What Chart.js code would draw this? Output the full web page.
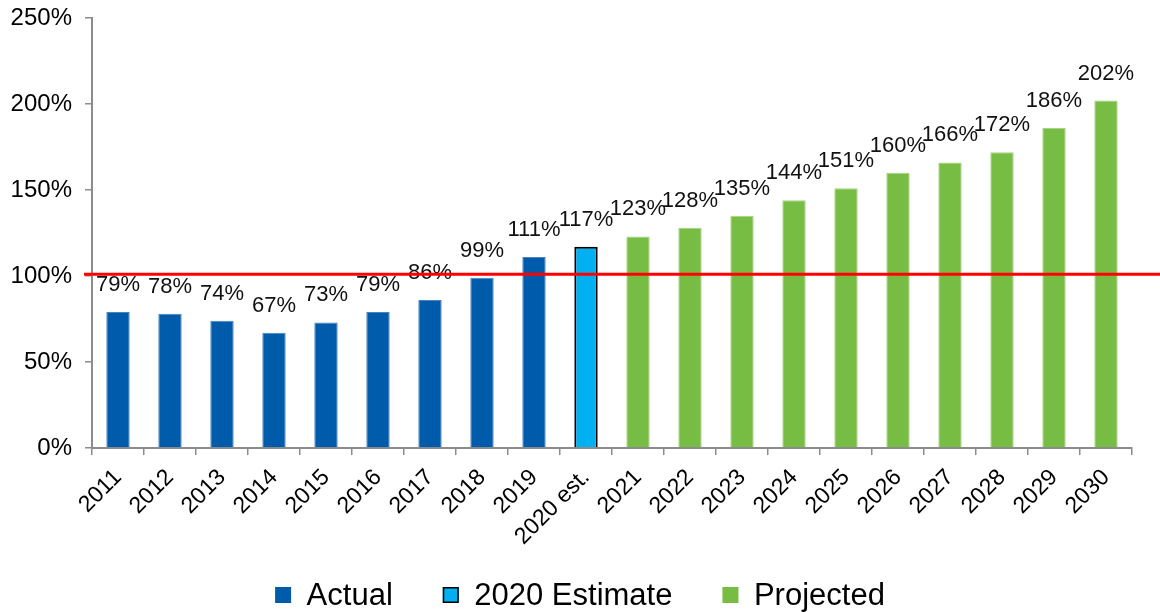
<!DOCTYPE html>
<html>
<head>
<meta charset="utf-8">
<script src="https://cdn.jsdelivr.net/npm/chart.js@4.4.1/dist/chart.umd.min.js"></script>
<style>
  html, body { margin: 0; padding: 0; background: #fff; }
  #wrap { width: 1160px; height: 612px; position: relative; }
</style>
</head>
<body>
<div id="wrap"><canvas id="chart"></canvas></div>
<script>
/* ---- DATA ---- */
const years = ['2011', '2012', '2013', '2014', '2015', '2016', '2017', '2018', '2019', '2020 est.',
               '2021', '2022', '2023', '2024', '2025', '2026', '2027', '2028', '2029', '2030'];
const actual    = [79, 78, 74, 67, 73, 79, 86, 99, 111];   // 2011-2019
const estimate  = [117];                                   // 2020 est.
const projected = [123, 128, 135, 144, 151, 160, 166, 172, 186, 202]; // 2021-2030
const yTicks    = [0, 50, 100, 150, 200, 250];
const threshold = 101;

const FONT = 'Arial, "Liberation Sans", sans-serif';
const AXIS = '#8c8c8c';

// place each series on its own slice of the year axis, null elsewhere
const nEst = actual.length;
const actualData    = years.map((_, i) => i < nEst ? actual[i] : null);
const estimateData  = years.map((_, i) => i === nEst ? estimate[0] : null);
const projectedData = years.map((_, i) => i > nEst ? projected[i - nEst - 1] : null);

/* ---- PLUGINS ---- */
// value labels above each bar
const valueLabels = {
  id: 'valueLabels',
  afterDatasetsDraw(chart, args, opts) {
    const ctx = chart.ctx;
    ctx.save();
    ctx.font = `${opts.size}px ${FONT}`;
    ctx.fillStyle = '#111';
    ctx.textAlign = 'center';
    ctx.textBaseline = 'alphabetic';
    chart.data.datasets.forEach((ds, di) => {
      const meta = chart.getDatasetMeta(di);
      meta.data.forEach((bar, i) => {
        const v = ds.data[i];
        if (v == null) return;
        ctx.fillText(v + '%', bar.x, bar.y - opts.gap);
      });
    });
    ctx.restore();
  }
};

// red 100% reference line, runs past the plot to the right edge
const thresholdLine = {
  id: 'thresholdLine',
  afterDraw(chart, args, opts) {
    const ctx = chart.ctx;
    const y = chart.scales.y.getPixelForValue(opts.value);
    ctx.save();
    ctx.strokeStyle = '#ff0000';
    ctx.lineWidth = 3;
    ctx.beginPath();
    ctx.moveTo(chart.chartArea.left - 8, y);
    ctx.lineTo(chart.width, y);
    ctx.stroke();
    ctx.restore();
  }
};

// single-row legend at the bottom
const legendRow = {
  id: 'legendRow',
  afterDraw(chart, args, opts) {
    const ctx = chart.ctx;
    ctx.save();
    ctx.font = `${opts.size}px ${FONT}`;
    const box = opts.box, gapText = opts.size / 2;
    const items = chart.data.datasets.map(ds => ({
      text: ds.label,
      fill: ds.backgroundColor,
      stroke: ds.legendStroke,
      w: box + gapText + ctx.measureText(ds.label).width
    }));
    const total = items.reduce((s, it) => s + it.w, 0) + opts.spacing * (items.length - 1);
    let x = (chart.width - total) / 2;
    const y = opts.y;
    ctx.textBaseline = 'middle';
    ctx.textAlign = 'left';
    items.forEach(it => {
      ctx.fillStyle = it.fill;
      ctx.fillRect(x, y - box / 2, box, box);
      if (it.stroke) {
        ctx.strokeStyle = it.stroke;
        ctx.lineWidth = 1.5;
        ctx.strokeRect(x + 0.75, y - box / 2 + 0.75, box - 1.5, box - 1.5);
      }
      ctx.fillStyle = '#000';
      ctx.fillText(it.text, x + box + gapText, y + 1);
      x += it.w + opts.spacing;
    });
    ctx.restore();
  }
};

/* ---- CHART ---- */
new Chart(document.getElementById('chart'), {
  type: 'bar',
  data: {
    labels: years,
    datasets: [
      { label: 'Actual',        data: actualData,    backgroundColor: '#005baa', borderColor: '#4a84c0', borderWidth: 1 },
      { label: '2020 Estimate', data: estimateData,  backgroundColor: '#00b0f0', borderColor: '#000', borderWidth: 2, legendStroke: '#000' },
      { label: 'Projected',     data: projectedData, backgroundColor: '#77bd43', borderColor: '#a6d486', borderWidth: 1 }
    ]
  },
  options: {
    responsive: true,
    maintainAspectRatio: false,
    animation: false,
    layout: { padding: { top: 18, right: 28, left: 0, bottom: 0 } },
    datasets: { bar: { barPercentage: 0.5, categoryPercentage: 0.9 } },
    plugins: {
      legend: { display: false },
      tooltip: { enabled: false },
      valueLabels: { size: 22, gap: 21 },
      thresholdLine: { value: threshold },
      legendRow: { size: 31, box: 16, spacing: 50, y: 595 }
    },
    scales: {
      x: {
        stacked: true,
        grid: { drawOnChartArea: false, tickLength: 7, color: AXIS, lineWidth: 1.5, offset: true },
        border: { color: AXIS, width: 2 },
        ticks: {
          color: '#000',
          font: { family: FONT, size: 23 },
          maxRotation: 45, minRotation: 45,
          autoSkip: false,
          padding: 9
        },
        afterFit: s => { s.height = 164; }
      },
      y: {
        stacked: true,
        min: 0, max: 250,
        grid: { drawOnChartArea: false, tickLength: 7, color: AXIS, lineWidth: 1.5 },
        border: { color: AXIS, width: 2 },
        ticks: {
          color: '#000',
          font: { family: FONT, size: 24 },
          padding: 13,
          callback: v => v + '%'
        },
        afterBuildTicks: s => { s.ticks = yTicks.map(v => ({ value: v })); },
        afterFit: s => { s.width = 92; s.paddingTop = 0; s.paddingBottom = 0; }
      }
    }
  },
  plugins: [valueLabels, thresholdLine, legendRow]
});
</script>
</body>
</html>
